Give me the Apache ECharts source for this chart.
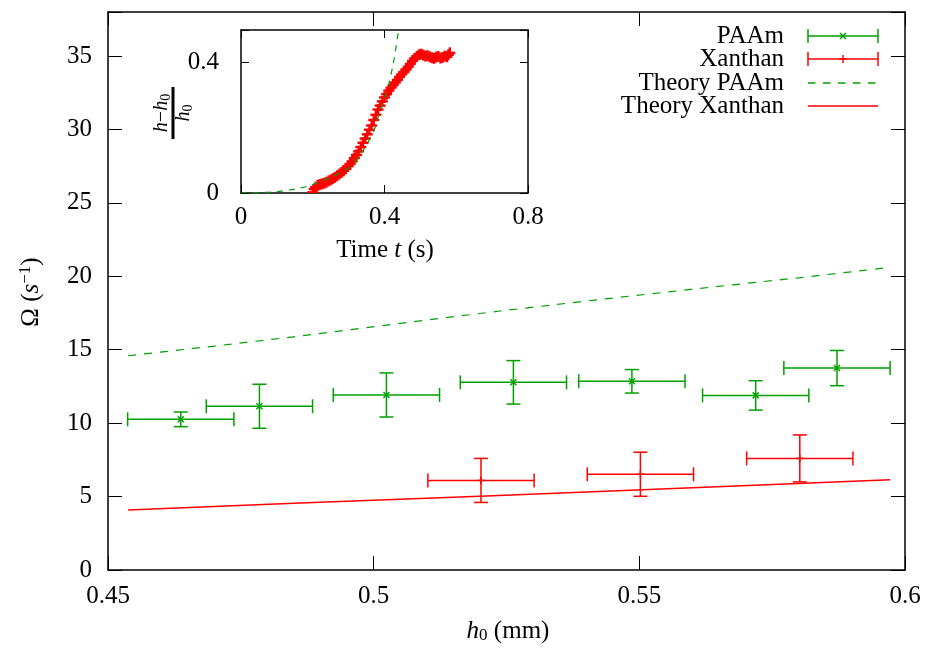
<!DOCTYPE html>
<html>
<head>
<meta charset="utf-8">
<script src="https://cdn.jsdelivr.net/npm/echarts@6/dist/echarts.min.js"></script>
<style>html,body{margin:0;padding:0;background:#fff;}#chart{width:928px;height:648px;}</style>
</head>
<body>
<div id="chart"></div>
<script>
// ---------- Data ----------
// Main plot: h0 (mm) vs Omega (1/s)
const paamX    = [0.4637, 0.4785, 0.5024, 0.5263, 0.5486, 0.5719, 0.5872];
const paamY    = [10.26, 11.15, 11.92, 12.78, 12.85, 11.89, 13.75];
const paamXErr = [0.010, 0.010, 0.010, 0.010, 0.010, 0.010, 0.010];
const paamYErr = [0.50, 1.50, 1.50, 1.48, 0.80, 1.00, 1.20];

const xanX    = [0.5202, 0.5502, 0.5802];
const xanY    = [6.10, 6.52, 7.60];
const xanXErr = [0.010, 0.010, 0.010];
const xanYErr = [1.50, 1.50, 1.60];

const theoryPaamX = [0.4538, 0.4700, 0.4861, 0.5050, 0.5238, 0.5420, 0.5614, 0.5800, 0.5972];
const theoryPaamY = [14.59, 15.25, 15.93, 16.80, 17.64, 18.40, 19.18, 19.90, 20.61];
const theoryXanX  = [0.4538, 0.4861, 0.5200, 0.5600, 0.5972];
const theoryXanY  = [4.09, 4.56, 5.03, 5.60, 6.15];

// Inset: time t (s) vs (h-h0)/h0
const insetT = [0.200,0.204,0.208,0.214,0.220,0.226,0.232,0.238,0.244,0.250,0.256,0.262,0.268,0.274,0.280,0.286,0.292,0.298,0.304,0.310,0.316,0.322,0.328,0.334,0.340,0.346,0.352,0.358,0.364,0.370,0.376,0.382,0.388,0.394,0.400,0.406,0.412,0.418,0.424,0.430,0.436,0.442,0.448,0.454,0.460,0.466,0.472,0.478,0.484,0.490,0.496,0.502,0.508,0.514,0.520,0.526,0.532,0.538,0.544,0.550,0.556,0.562,0.568,0.574,0.578,0.582];
const insetV = [0.002,0.012,0.018,0.024,0.026,0.028,0.030,0.033,0.037,0.040,0.044,0.048,0.053,0.058,0.063,0.068,0.074,0.082,0.089,0.097,0.107,0.117,0.128,0.141,0.154,0.167,0.180,0.194,0.207,0.224,0.240,0.256,0.268,0.281,0.293,0.303,0.314,0.323,0.331,0.339,0.347,0.356,0.364,0.371,0.379,0.387,0.396,0.405,0.413,0.419,0.424,0.426,0.423,0.420,0.421,0.418,0.415,0.413,0.417,0.419,0.414,0.416,0.420,0.418,0.424,0.430];
const insetTheoryT = [0.000, 0.050, 0.100, 0.118, 0.150, 0.183, 0.220, 0.260, 0.304, 0.340, 0.370, 0.387, 0.406, 0.425, 0.438, 0.450];
const insetTheoryV = [0.000, 0.001, 0.004, 0.007, 0.012, 0.020, 0.034, 0.053, 0.080, 0.130, 0.190, 0.250, 0.309, 0.400, 0.490, 0.570];

const mainXTicks = { min: 0.45, max: 0.6, step: 0.05 };
const mainYTicks = { min: 0, max: 38, step: 5 };
const insetXTicks = { min: 0, max: 0.8, step: 0.4 };
const insetYTicks = { min: 0, max: 0.5, step: 0.4 };

const legendLabels = ['PAAm', 'Xanthan', 'Theory PAAm', 'Theory Xanthan'];

// ---------- Styles ----------
const GREEN = '#00a000';
const RED = '#ff0000';
const FONT = '"Liberation Serif", "DejaVu Serif", serif';
const FS = 25;

function zip(a, b, c, d) { return a.map((v, i) => d ? [v, b[i], c[i], d[i]] : [v, b[i]]); }

function errorBarItem(color, marker) {
  return function (params, api) {
    const x = api.value(0), y = api.value(1), dx = api.value(2), dy = api.value(3);
    const c = api.coord([x, y]);
    const l = api.coord([x - dx, y]);
    const r = api.coord([x + dx, y]);
    const t = api.coord([x, y + dy]);
    const b = api.coord([x, y - dy]);
    const cap = 7, m = marker === 'x' ? 3 : 4;
    const st = { stroke: color, lineWidth: 1.5 };
    const line = (x1, y1, x2, y2) => ({ type: 'line', shape: { x1, y1, x2, y2 }, style: st });
    const ch = [
      line(l[0], l[1], r[0], r[1]),
      line(l[0], l[1] - cap, l[0], l[1] + cap),
      line(r[0], r[1] - cap, r[0], r[1] + cap),
      line(t[0], t[1], b[0], b[1]),
      line(t[0] - cap, t[1], t[0] + cap, t[1]),
      line(b[0] - cap, b[1], b[0] + cap, b[1])
    ];
    if (marker === 'x') {
      ch.push(line(c[0] - m, c[1] - m, c[0] + m, c[1] + m));
      ch.push(line(c[0] - m, c[1] + m, c[0] + m, c[1] - m));
    } else {
      ch.push(line(c[0] - m, c[1], c[0] + m, c[1]));
      ch.push(line(c[0], c[1] - m, c[0], c[1] + m));
    }
    return { type: 'group', children: ch };
  };
}

function plusItem(params, api) {
  const c = api.coord([api.value(0), api.value(1)]);
  const m = 5.5;
  const st = { stroke: RED, lineWidth: 2.4 };
  return { type: 'group', children: [
    { type: 'line', shape: { x1: c[0] - m, y1: c[1], x2: c[0] + m, y2: c[1] }, style: st },
    { type: 'line', shape: { x1: c[0], y1: c[1] - m, x2: c[0], y2: c[1] + m }, style: st }
  ]};
}

const fmt2 = v => String(+v.toFixed(2));
const labelStyle = { fontFamily: FONT, fontSize: FS, color: '#000' };

function axisBase(range, gridIndex, position, showLabel, tickLen, margin, fmt) {
  return {
    type: 'value', gridIndex, position,
    min: range.min, max: range.max, interval: range.step,
    splitLine: { show: false },
    axisLine: { show: true, onZero: false, lineStyle: { color: '#000', width: 1.5 } },
    axisTick: { show: true, inside: true, length: tickLen, lineStyle: { color: '#000', width: 1 } },
    axisLabel: showLabel ? Object.assign({ show: true, margin, formatter: v => {
      const k = Math.round((v - range.min) / range.step);
      if (Math.abs(range.min + k * range.step - v) > 1e-9) return '';
      return fmt(v);
    } }, labelStyle) : { show: false }
  };
}

// ---------- Legend (graphics) ----------
const legX1 = 808, legX2 = 878, legTextX = 784;
const legRows = [36, 59, 83, 106];
const legendGraphics = [];
legendLabels.forEach((lab, i) => {
  legendGraphics.push({ type: 'text', x: legTextX, y: legRows[i], style: { text: lab, font: FS + 'px ' + FONT, fill: '#000', align: 'right', verticalAlign: 'middle' } });
});
function legLine(x1, y1, x2, y2, color, extra) {
  return Object.assign({ type: 'line', shape: { x1, y1, x2, y2 }, style: Object.assign({ stroke: color, lineWidth: 1.5 }, extra || {}) });
}
(function () {
  const xm = (legX1 + legX2) / 2;
  let y = legRows[0];
  legendGraphics.push(legLine(legX1, y, legX2, y, GREEN), legLine(legX1, y - 7, legX1, y + 7, GREEN), legLine(legX2, y - 7, legX2, y + 7, GREEN),
    legLine(xm - 3, y - 3, xm + 3, y + 3, GREEN), legLine(xm - 3, y + 3, xm + 3, y - 3, GREEN));
  y = legRows[1];
  legendGraphics.push(legLine(legX1, y, legX2, y, RED), legLine(legX1, y - 7, legX1, y + 7, RED), legLine(legX2, y - 7, legX2, y + 7, RED),
    legLine(xm - 4, y, xm + 4, y, RED), legLine(xm, y - 4, xm, y + 4, RED));
  y = legRows[2];
  legendGraphics.push(legLine(legX1, y, legX2, y, GREEN, { lineDash: [7.5, 7.5] }));
  y = legRows[3];
  legendGraphics.push(legLine(legX1, y, legX2, y, RED));
})();

// ---------- Titles ----------
const titleGraphics = [
  { type: 'text', x: 508, y: 631, style: {
      text: '{i|h}{sub|0} (mm)', align: 'center', verticalAlign: 'middle', font: FS + 'px ' + FONT, fill: '#000',
      rich: { i: { fontFamily: FONT, fontSize: FS, fontStyle: 'italic' }, sub: { fontFamily: FONT, fontSize: 17, verticalAlign: 'bottom', padding: [10, 0, 0, 0] } } } },
  { type: 'text', x: 31, y: 292, rotation: Math.PI / 2, style: {
      text: 'Ω ({i|s}{sup|−1})', align: 'center', verticalAlign: 'middle', font: FS + 'px ' + FONT, fill: '#000',
      rich: { i: { fontFamily: FONT, fontSize: FS, fontStyle: 'italic' }, sup: { fontFamily: FONT, fontSize: 17, verticalAlign: 'top', padding: [0, 0, 10, 0] } } } },
  { type: 'text', x: 385, y: 250, style: {
      text: 'Time {i|t} (s)', align: 'center', verticalAlign: 'middle', font: FS + 'px ' + FONT, fill: '#000',
      rich: { i: { fontFamily: FONT, fontSize: FS, fontStyle: 'italic' } } } },
  { type: 'group', x: 173, y: 113, rotation: Math.PI / 2, children: [
      { type: 'text', x: 0, y: -11, style: { text: '{i|h}−{i|h}{sub|0}', align: 'center', verticalAlign: 'middle', font: '20px ' + FONT, fill: '#000',
        rich: { i: { fontFamily: FONT, fontSize: 20, fontStyle: 'italic' }, sub: { fontFamily: FONT, fontSize: 14, verticalAlign: 'bottom', padding: [8, 0, 0, 0] } } } },
      { type: 'line', shape: { x1: -26, y1: 0, x2: 26, y2: 0 }, style: { stroke: '#000', lineWidth: 3 } },
      { type: 'text', x: 0, y: 11, style: { text: '{i|h}{sub|0}', align: 'center', verticalAlign: 'middle', font: '20px ' + FONT, fill: '#000',
        rich: { i: { fontFamily: FONT, fontSize: 20, fontStyle: 'italic' }, sub: { fontFamily: FONT, fontSize: 14, verticalAlign: 'bottom', padding: [8, 0, 0, 0] } } } }
  ] }
];

// ---------- Chart ----------
const chart = echarts.init(document.getElementById('chart'), null, { renderer: 'canvas' });
const option = {
  animation: false,
  backgroundColor: '#fff',
  grid: [
    { left: 108, top: 12, width: 797, height: 558, show: false, containLabel: false },
    { left: 241, top: 30, width: 287, height: 163, show: true, backgroundColor: '#fff', borderWidth: 0, containLabel: false, z: 5 }
  ],
  xAxis: [
    axisBase(mainXTicks, 0, 'bottom', true, 14, 14, fmt2),
    axisBase(mainXTicks, 0, 'top', false, 14, 0, fmt2),
    Object.assign(axisBase(insetXTicks, 1, 'bottom', true, 8, 12, v => String(+v.toFixed(1))), { z: 6 }),
    Object.assign(axisBase(insetXTicks, 1, 'top', false, 8, 0, fmt2), { z: 6 })
  ],
  yAxis: [
    axisBase(mainYTicks, 0, 'left', true, 14, 16, v => String(Math.round(v))),
    axisBase(mainYTicks, 0, 'right', false, 14, 0, fmt2),
    Object.assign(axisBase(insetYTicks, 1, 'left', true, 8, 22, v => String(+v.toFixed(1))), { z: 6 }),
    Object.assign(axisBase(insetYTicks, 1, 'right', false, 8, 0, fmt2), { z: 6 })
  ],
  series: [
    { type: 'line', name: 'Theory PAAm', xAxisIndex: 0, yAxisIndex: 0, data: zip(theoryPaamX, theoryPaamY), symbol: 'none',
      lineStyle: { color: GREEN, width: 1.2, type: [8, 8] }, z: 2 },
    { type: 'line', name: 'Theory Xanthan', xAxisIndex: 0, yAxisIndex: 0, data: zip(theoryXanX, theoryXanY), symbol: 'none',
      lineStyle: { color: RED, width: 1.5 }, z: 2 },
    { type: 'custom', name: 'PAAm', xAxisIndex: 0, yAxisIndex: 0, renderItem: errorBarItem(GREEN, 'x'),
      data: zip(paamX, paamY, paamXErr, paamYErr), z: 3 },
    { type: 'custom', name: 'Xanthan', xAxisIndex: 0, yAxisIndex: 0, renderItem: errorBarItem(RED, '+'),
      data: zip(xanX, xanY, xanXErr, xanYErr), z: 3 },
    { type: 'custom', name: 'Inset data', xAxisIndex: 2, yAxisIndex: 2, renderItem: plusItem,
      data: zip(insetT, insetV), z: 7, clip: true },
    { type: 'line', name: 'Inset theory', xAxisIndex: 2, yAxisIndex: 2, data: zip(insetTheoryT, insetTheoryV), symbol: 'none',
      smooth: 0.3, clip: true, lineStyle: { color: GREEN, width: 1.2, type: [6, 6] }, z: 8 }
  ],
  graphic: { elements: legendGraphics.concat(titleGraphics) }
};
chart.setOption(option);
</script>
</body>
</html>
